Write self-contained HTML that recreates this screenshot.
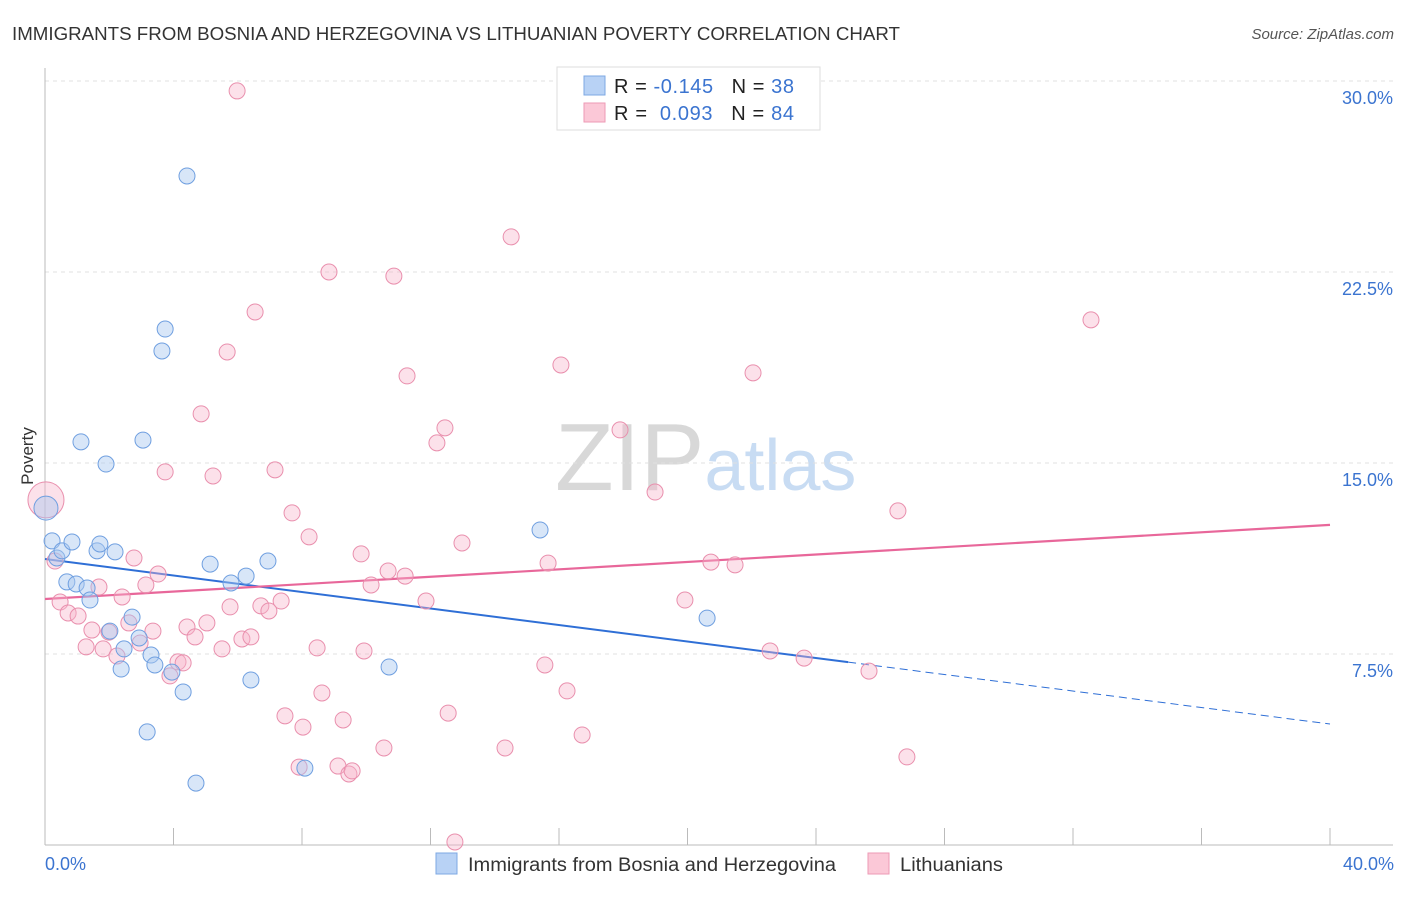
<!DOCTYPE html>
<html><head><meta charset="utf-8">
<style>
body{margin:0;background:#fff;font-family:"Liberation Sans",sans-serif;}
svg text{font-family:"Liberation Sans",sans-serif;}
</style></head>
<body>
<svg id="chart" width="1406" height="892" xmlns="http://www.w3.org/2000/svg">
<text x="12" y="40" font-size="18" fill="#333" textLength="888" lengthAdjust="spacingAndGlyphs">IMMIGRANTS FROM BOSNIA AND HERZEGOVINA VS LITHUANIAN POVERTY CORRELATION CHART</text>
<text x="1394" y="39" font-size="15" fill="#555" font-style="italic" text-anchor="end">Source: ZipAtlas.com</text>
<text x="555" y="490" font-size="96" fill="#ddd" font-family="Liberation Serif"><tspan fill="#d8d8d8">ZIP</tspan><tspan fill="#c8dcf3" font-family="Liberation Sans" font-size="72">atlas</tspan></text>
<g id="grid"></g>
<g id="axes"></g>
<g id="lines"></g>
<g id="points"></g>
<text transform="translate(33,456) rotate(-90)" font-size="17" fill="#333" text-anchor="middle">Poverty</text>
<text x="45" y="870" font-size="18" fill="#3b74d0">0.0%</text>
<text x="1394" y="870" font-size="18" fill="#3b74d0" text-anchor="end">40.0%</text>
<g>
<rect x="557" y="67" width="263" height="63" fill="#fff" stroke="#ddd"/>
<rect x="584" y="76" width="21" height="19" fill="#b8d2f5" stroke="#7ea8e3"/>
<rect x="584" y="103" width="21" height="19" fill="#fbc8d7" stroke="#ee9ab5"/>
<text x="614" y="93" font-size="20" fill="#222" textLength="180">R = <tspan fill="#3b74d0">-0.145</tspan><tspan dx="18">N = </tspan><tspan fill="#3b74d0">38</tspan></text>
<text x="614" y="120" font-size="20" fill="#222" textLength="180">R = <tspan fill="#3b74d0" dx="6">0.093</tspan><tspan dx="18">N = </tspan><tspan fill="#3b74d0">84</tspan></text>
</g>
<g>
<rect x="436" y="853" width="21" height="21" fill="#b8d2f5" stroke="#7ea8e3"/>
<text x="468" y="871" font-size="19" fill="#333" textLength="368" lengthAdjust="spacingAndGlyphs">Immigrants from Bosnia and Herzegovina</text>
<rect x="868" y="853" width="21" height="21" fill="#fbc8d7" stroke="#ee9ab5"/>
<text x="900" y="871" font-size="19" fill="#333" textLength="103" lengthAdjust="spacingAndGlyphs">Lithuanians</text>
</g>
</svg>
<script>
const yTicks=[7.5,15,22.5,30];
const yTickLabels=["7.5%","15.0%","22.5%","30.0%"];
const xTicks=[0,4,8,12,16,20,24,28,32,36,40];
const blueX=[0.03,0.22,0.37,0.53,0.84,0.68,0.97,1.31,1.40,1.12,1.62,1.71,2.18,1.90,3.05,3.74,3.64,4.42,2.02,2.71,2.46,2.37,2.93,3.30,3.42,3.95,4.30,3.18,4.70,5.14,5.79,6.26,6.94,6.41,8.09,10.71,15.41,20.61];
const blueY=[13.23,11.94,11.27,11.55,11.90,10.33,10.25,10.09,9.62,15.83,11.55,11.82,11.51,14.96,15.90,20.26,19.40,26.27,8.40,8.95,7.70,6.91,8.13,7.46,7.07,6.79,6.01,4.44,2.43,11.03,10.29,10.56,11.15,6.48,3.02,6.99,12.37,8.91];
const pinkX=[0.03,0.31,5.98,14.51,8.84,10.86,6.54,32.56,5.67,16.06,11.27,22.04,4.86,12.45,12.20,17.90,3.74,5.23,7.16,18.99,26.55,7.69,8.22,12.98,2.77,9.84,15.66,20.73,21.48,10.68,11.21,3.52,10.15,3.14,1.68,0.47,0.72,1.03,2.40,11.86,19.92,7.35,6.72,5.76,6.97,5.04,4.42,3.36,1.46,1.99,2.61,4.67,6.13,6.41,2.96,1.28,1.81,2.24,5.51,8.47,9.93,4.14,4.30,3.89,15.56,22.57,23.63,25.65,8.62,16.25,7.47,12.55,9.28,8.03,16.72,10.55,14.32,7.91,9.12,9.46,9.56,26.83,12.76];
const pinkY=[13.55,11.15,29.61,23.88,22.50,22.34,20.93,20.62,19.36,18.85,18.42,18.54,16.93,16.38,15.79,16.30,14.65,14.49,14.73,13.86,13.12,13.04,12.10,11.86,11.27,11.43,11.07,11.11,11.00,10.76,10.56,10.64,10.21,10.21,10.13,9.54,9.11,8.99,9.74,9.58,9.62,9.58,9.39,9.35,9.19,8.72,8.56,8.40,8.44,8.36,8.72,8.17,8.09,8.17,7.93,7.78,7.70,7.42,7.70,7.74,7.62,7.19,7.15,6.64,7.07,7.62,7.34,6.83,5.97,6.05,5.07,5.18,4.91,4.63,4.32,3.81,3.81,3.06,3.10,2.79,2.91,3.46,0.12];
const blueTrend=[11.23,4.75];
const blueSolidEnd=25;
const pinkTrend=[9.66,12.57];
const NS="http://www.w3.org/2000/svg";
const sx=v=>45+v/40*1285;
const sy=v=>845-v/7.5*191;
function mk(tag,attrs,parent){const e=document.createElementNS(NS,tag);for(const k in attrs)e.setAttribute(k,attrs[k]);parent.appendChild(e);return e;}
const grid=document.getElementById('grid'),axes=document.getElementById('axes'),lines=document.getElementById('lines'),pts=document.getElementById('points');
yTicks.forEach((t,i)=>{
 const l=mk('line',{x1:45,x2:1393,y1:sy(t),y2:sy(t),stroke:'#e0e0e0','stroke-dasharray':'4,4'},grid);
 
 
 const tx=mk('text',{x:1393,y:sy(t)+23,'font-size':18,fill:'#3b74d0','text-anchor':'end'},grid);
 tx.textContent=yTickLabels[i];
 
 
});
const ax=mk('line',{x1:45,x2:45,y1:68,y2:845,stroke:'#bbb'},axes);


const bx=mk('line',{x1:45,x2:1393,y1:845,y2:845,stroke:'#bbb'},axes);


xTicks.forEach(t=>{
 const l=mk('line',{x1:sx(t),x2:sx(t),y1:828,y2:845,stroke:'#bbb'},axes);
 
 
});
function trendY(tr,x){return tr[0]+(tr[1]-tr[0])*x/40;}
const bl=mk('line',{x1:sx(0),y1:sy(trendY(blueTrend,0)),x2:sx(blueSolidEnd),y2:sy(trendY(blueTrend,blueSolidEnd)),stroke:'#2f6fd6','stroke-width':2},lines);


const bd=mk('line',{x1:sx(blueSolidEnd),y1:sy(trendY(blueTrend,blueSolidEnd)),x2:sx(40),y2:sy(trendY(blueTrend,40)),stroke:'#2f6fd6','stroke-width':1,'stroke-dasharray':'8,5'},lines);


const pl=mk('line',{x1:sx(0),y1:sy(pinkTrend[0]),x2:sx(40),y2:sy(pinkTrend[1]),stroke:'#e8679a','stroke-width':2.2},lines);


pinkX.forEach((x,i)=>{
 const c=mk('circle',{cx:sx(x),cy:sy(pinkY[i]),r:i===0?18:8,fill:'#f7b5ca','fill-opacity':0.4,stroke:'#e98fad','stroke-width':1},pts);
 
 
});
blueX.forEach((x,i)=>{
 const c=mk('circle',{cx:sx(x),cy:sy(blueY[i]),r:i===0?12:8,fill:'#a9c8f0','fill-opacity':0.45,stroke:'#6f9fe0','stroke-width':1},pts);
 
 
});
</script>
</body></html>
